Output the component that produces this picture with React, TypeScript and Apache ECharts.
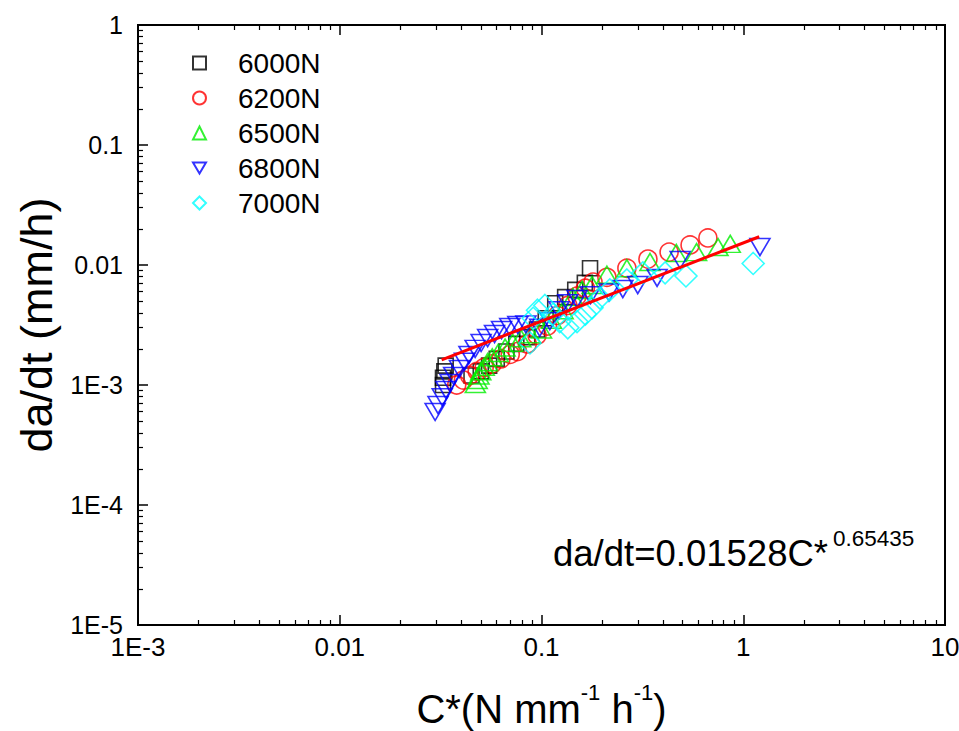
import React, { useEffect, useRef } from "react";
import * as echarts from "echarts";

// ---- data ----
const seriesNames = ["6000N", "6200N", "6500N", "6800N", "7000N"];

const n6000X = [0.0325, 0.0325, 0.033, 0.0335, 0.045, 0.05, 0.055, 0.06, 0.067, 0.075, 0.085, 0.095, 0.105, 0.117, 0.131, 0.147, 0.164, 0.174];
const n6000Y = [0.0010, 0.00115, 0.0013, 0.00145, 0.0012, 0.0013, 0.00145, 0.00165, 0.0019, 0.0022, 0.0025, 0.0029, 0.0036, 0.0048, 0.0054, 0.0062, 0.0071, 0.0094];

const n6200X = [0.038, 0.041, 0.044, 0.048, 0.052, 0.057, 0.063, 0.07, 0.076, 0.085, 0.095, 0.107, 0.12, 0.135, 0.15, 0.165, 0.18, 0.211, 0.265, 0.337, 0.429, 0.545, 0.668];
const n6200Y = [0.0010, 0.0011, 0.0012, 0.0013, 0.0014, 0.0015, 0.00165, 0.0018, 0.0019, 0.0022, 0.0026, 0.0031, 0.0038, 0.0046, 0.0055, 0.0064, 0.0072, 0.0079, 0.0094, 0.0112, 0.0128, 0.0147, 0.0168];

const n6500X = [0.047, 0.048, 0.049, 0.05, 0.052, 0.054, 0.057, 0.061, 0.066, 0.072, 0.079, 0.088, 0.1, 0.112, 0.128, 0.143, 0.159, 0.178, 0.211, 0.265, 0.345, 0.466, 0.587, 0.75, 0.862];
const n6500Y = [0.00102, 0.0011, 0.0012, 0.0013, 0.00142, 0.00155, 0.0017, 0.00185, 0.00205, 0.00225, 0.00245, 0.00265, 0.0029, 0.0035, 0.0042, 0.0054, 0.0062, 0.0068, 0.0083, 0.0094, 0.0106, 0.0126, 0.0128, 0.0141, 0.015];

const n6800X = [0.0297, 0.0307, 0.0322, 0.0336, 0.0352, 0.0367, 0.0392, 0.0415, 0.0437, 0.0469, 0.0502, 0.0541, 0.0585, 0.0634, 0.0696, 0.0763, 0.0837, 0.098, 0.11, 0.122, 0.135, 0.15, 0.175, 0.216, 0.253, 0.3, 0.374, 0.487, 1.21];
const n6800Y = [0.000596, 0.00068, 0.00079, 0.00091, 0.00104, 0.00119, 0.00136, 0.00156, 0.00178, 0.002, 0.00224, 0.00246, 0.00266, 0.00287, 0.00304, 0.00316, 0.0032, 0.003, 0.0034, 0.0042, 0.0048, 0.0052, 0.0056, 0.0059, 0.0063, 0.0068, 0.0078, 0.011, 0.0141];

const n7000X = [0.0877, 0.091, 0.0955, 0.104, 0.114, 0.123, 0.135, 0.15, 0.165, 0.178, 0.195, 0.218, 0.265, 0.318, 0.41, 0.52, 1.12];
const n7000Y = [0.00224, 0.0036, 0.0042, 0.0046, 0.0039, 0.00337, 0.003, 0.00337, 0.0039, 0.0044, 0.0053, 0.0062, 0.0075, 0.0086, 0.0086, 0.0081, 0.0103];

const fitX = [0.032, 1.2];
const fitY = [0.00162, 0.0172];

const xDecades = [-3, -2, -1, 0];
const yDecades = [-5, -4, -3, -2, -1];
const minorMultipliers = [2, 3, 4, 5, 6, 7, 8, 9];

const formulaMain = "da/dt=0.01528C*";
const formulaExp = "0.65435";
const xTitleParts = ["C*(N mm", "-1", " h", "-1", ")"];
const yTitle = "da/dt (mm/h)";

const FONT = "'Liberation Sans', Arial, Helvetica, sans-serif";
const INV_TRIANGLE = "path://M0,0 L20,0 L10,17 Z";

function zip(xs: number[], ys: number[]) {
  return xs.map((x, i) => [x, ys[i]]);
}

function minorLogs(decades: number[]) {
  const out: number[] = [];
  decades.forEach((d) => minorMultipliers.forEach((m) => out.push(d + Math.log10(m))));
  return out;
}

function logLabel(v: number) {
  const e = Math.round(Math.log10(v));
  if (e <= -3) return "1E" + e;
  if (e < 0) return Math.pow(10, e).toFixed(-e);
  return String(Math.round(Math.pow(10, e)));
}

export default function App() {
  const ref = useRef<HTMLDivElement>(null);

  useEffect(() => {
    if (!ref.current) return;
    const chart = echarts.init(ref.current, null, { renderer: "svg" });

    const majorTick = { show: true, inside: true, length: 10, lineStyle: { color: "#000", width: 1.5 } };
    const minorTickStyle = { color: "#000", width: 1.2 };

    const markerBase = (color: string) => ({
      color: "rgba(0,0,0,0)",
      borderColor: color,
      borderWidth: 1.6,
    });

    const option: any = {
      animation: false,
      backgroundColor: "#ffffff",
      textStyle: { fontFamily: FONT },
      grid: {
        left: 138,
        top: 25,
        width: 807,
        height: 600,
        containLabel: false,
        outerBoundsMode: "none",
        show: true,
        borderColor: "#000",
        borderWidth: 2,
        backgroundColor: "transparent",
      },
      legend: {
        data: seriesNames.map((n, i) => (i === 3 ? { name: n, icon: INV_TRIANGLE } : { name: n })),
        orient: "vertical",
        left: 187,
        top: 44,
        itemWidth: 13,
        itemHeight: 13,
        itemGap: 7,
        textStyle: { fontSize: 28, lineHeight: 28, color: "#000", fontFamily: FONT, padding: [0, 0, 0, 27] },
      },
      xAxis: [
        {
          type: "log",
          min: 0.001,
          max: 10,
          position: "bottom",
          axisLine: { show: true, onZero: false, lineStyle: { color: "#000", width: 2 } },
          axisTick: majorTick,
          splitLine: { show: false },
          axisLabel: { fontSize: 26, color: "#000", margin: 9, fontFamily: FONT, formatter: logLabel },
          name: xTitleParts.map((p, i) => (i % 2 === 0 ? `{m|${p}}` : `{s|${p}}`)).join(""),
          nameLocation: "middle",
          nameGap: 56,
          nameTextStyle: {
            rich: {
              m: { fontSize: 40, lineHeight: 48, verticalAlign: "bottom", color: "#000", fontFamily: FONT },
              s: { fontSize: 22, lineHeight: 22, verticalAlign: "top", color: "#000", fontFamily: FONT },
            },
          },
        },
        {
          type: "value",
          min: -3,
          max: 1,
          position: "bottom",
          axisLine: { show: false, onZero: false },
          axisLabel: { show: false },
          splitLine: { show: false },
          axisTick: { show: true, inside: true, length: 5, lineStyle: minorTickStyle, customValues: minorLogs(xDecades) },
        },
        {
          type: "log",
          min: 0.001,
          max: 10,
          position: "top",
          axisLine: { show: true, onZero: false, lineStyle: { color: "#000", width: 2 } },
          axisTick: majorTick,
          axisLabel: { show: false },
          splitLine: { show: false },
        },
        {
          type: "value",
          min: -3,
          max: 1,
          position: "top",
          axisLine: { show: false, onZero: false },
          axisLabel: { show: false },
          splitLine: { show: false },
          axisTick: { show: true, inside: true, length: 5, lineStyle: minorTickStyle, customValues: minorLogs(xDecades) },
        },
      ],
      yAxis: [
        {
          type: "log",
          min: 0.00001,
          max: 1,
          position: "left",
          axisLine: { show: true, onZero: false, lineStyle: { color: "#000", width: 2 } },
          axisTick: majorTick,
          splitLine: { show: false },
          axisLabel: { fontSize: 25, color: "#000", margin: 15, fontFamily: FONT, formatter: logLabel },
          name: yTitle,
          nameLocation: "middle",
          nameGap: 76,
          nameRotate: 90,
          nameTextStyle: { fontSize: 45, color: "#000", fontFamily: FONT },
        },
        {
          type: "value",
          min: -5,
          max: 0,
          position: "left",
          axisLine: { show: false, onZero: false },
          axisLabel: { show: false },
          splitLine: { show: false },
          axisTick: { show: true, inside: true, length: 5, lineStyle: minorTickStyle, customValues: minorLogs(yDecades) },
        },
      ],
      graphic: [
        {
          type: "text",
          left: 553,
          top: 527,
          style: {
            text: `{m|${formulaMain}}{s|${formulaExp}}`,
            rich: {
              m: { fontSize: 36.5, lineHeight: 45, verticalAlign: "bottom", fill: "#000", fontFamily: FONT },
              s: { fontSize: 22.5, lineHeight: 22, verticalAlign: "top", fill: "#000", fontFamily: FONT, padding: [0, 0, 0, 5] },
            },
          },
        },
      ],
      series: [
        {
          type: "scatter", name: "6000N", data: zip(n6000X, n6000Y), symbol: "rect", symbolSize: 15,
          itemStyle: markerBase("#000000"),
        },
        {
          type: "scatter", name: "6200N", data: zip(n6200X, n6200Y), symbol: "circle", symbolSize: 18,
          itemStyle: markerBase("#ff0000"),
        },
        {
          type: "scatter", name: "6500N", data: zip(n6500X, n6500Y), symbol: "triangle", symbolSize: [20, 17],
          itemStyle: markerBase("#00ee00"),
        },
        {
          type: "scatter", name: "6800N", data: zip(n6800X, n6800Y), symbol: "triangle", symbolRotate: 180, symbolSize: [20, 17],
          itemStyle: markerBase("#0000ff"),
        },
        {
          type: "scatter", name: "7000N", data: zip(n7000X, n7000Y), symbol: "diamond", symbolSize: 22,
          itemStyle: markerBase("#00ffff"),
        },
        {
          type: "line", name: "fit", data: zip(fitX, fitY), symbol: "none", z: 5,
          lineStyle: { color: "#ff0000", width: 3 },
        },
      ],
    };

    chart.setOption(option);
    return () => chart.dispose();
  }, []);

  return (
    <div
      ref={ref}
      style={{ position: "absolute", left: 0, top: 0, width: 959, height: 731, background: "#fff" }}
    />
  );
}
